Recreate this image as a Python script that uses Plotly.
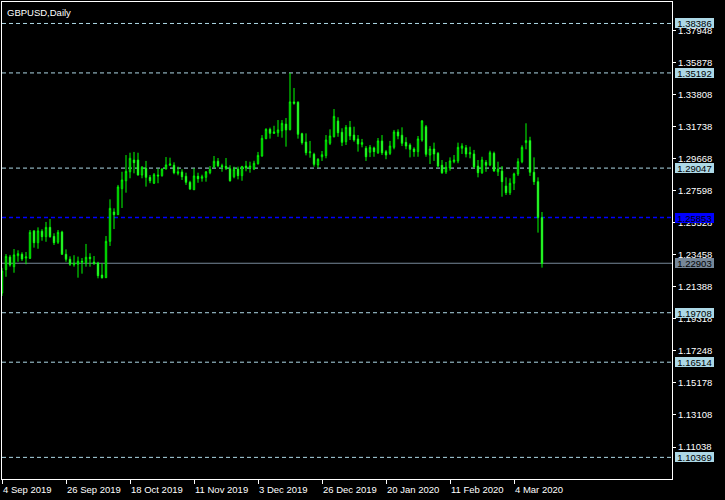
import pandas as pd
import plotly.graph_objects as go

# ---- data (GBPUSD daily, 4 Sep 2019 .. 13 Mar 2020) ----
holidays = ["2019-12-25", "2020-01-01"]
dates = [d for d in pd.bdate_range("2019-09-04", "2020-03-13") if d.strftime("%Y-%m-%d") not in holidays]

open_ = [1.2098, 1.2249, 1.2331, 1.2268, 1.2339, 1.2348, 1.2324, 1.2322, 1.2499, 1.2423,
         1.2497, 1.2462, 1.2522, 1.2464, 1.2426, 1.2492, 1.2348, 1.2316, 1.2281, 1.2284,
         1.2303, 1.2294, 1.2329, 1.2298, 1.2292, 1.2214, 1.2197, 1.2432, 1.2621, 1.2604,
         1.2772, 1.2823, 1.2881, 1.2957, 1.2957, 1.2860, 1.2903, 1.2845, 1.2807, 1.2860,
         1.2856, 1.2899, 1.2923, 1.2923, 1.2871, 1.2880, 1.2852, 1.2813, 1.2765, 1.2852,
         1.2839, 1.2845, 1.2875, 1.2914, 1.2949, 1.2920, 1.2916, 1.2901, 1.2849, 1.2899,
         1.2856, 1.2918, 1.2907, 1.2899, 1.2933, 1.2983, 1.3095, 1.3155, 1.3129, 1.3133,
         1.3146, 1.3189, 1.3153, 1.3332, 1.3330, 1.3127, 1.3073, 1.3004, 1.2994, 1.2925,
         1.2978, 1.2985, 1.3065, 1.3107, 1.3209, 1.3136, 1.3075, 1.3168, 1.3118, 1.3093,
         1.3058, 1.3033, 1.3007, 1.3035, 1.3004, 1.3080, 1.3011, 1.3000, 1.3039, 1.3138,
         1.3117, 1.3071, 1.3054, 1.3028, 1.3011, 1.3086, 1.3172, 1.2989, 1.3028, 1.3000,
         1.2923, 1.2880, 1.2905, 1.2946, 1.2951, 1.3033, 1.3036, 1.2996, 1.2996, 1.2918,
         1.2875, 1.2942, 1.2925, 1.3000, 1.2881, 1.2886, 1.2789, 1.2746, 1.2807, 1.2867,
         1.2946, 1.3069, 1.3082, 1.2878, 1.2817, 1.2585]
high = [1.2260, 1.2350, 1.2344, 1.2382, 1.2374, 1.2361, 1.2363, 1.2505, 1.2505, 1.2522,
        1.2510, 1.2557, 1.2576, 1.2484, 1.2505, 1.2500, 1.2380, 1.2335, 1.2342, 1.2333,
        1.2324, 1.2415, 1.2355, 1.2337, 1.2300, 1.2290, 1.2466, 1.2703, 1.2645, 1.2796,
        1.2881, 1.2989, 1.3004, 1.3009, 1.3004, 1.2918, 1.2951, 1.2860, 1.2873, 1.2901,
        1.2903, 1.2976, 1.2972, 1.2942, 1.2914, 1.2897, 1.2875, 1.2823, 1.2903, 1.2875,
        1.2862, 1.2886, 1.2918, 1.2983, 1.2970, 1.2933, 1.2970, 1.2923, 1.2914, 1.2914,
        1.2918, 1.2951, 1.2946, 1.2952, 1.3009, 1.3118, 1.3162, 1.3166, 1.3178, 1.3215,
        1.3215, 1.3228, 1.3519, 1.3422, 1.3336, 1.3133, 1.3129, 1.3080, 1.3004, 1.2968,
        1.3015, 1.3118, 1.3155, 1.3286, 1.3233, 1.3162, 1.3183, 1.3209, 1.3172, 1.3118,
        1.3093, 1.3047, 1.3054, 1.3043, 1.3099, 1.3118, 1.3022, 1.3080, 1.3151, 1.3155,
        1.3168, 1.3104, 1.3065, 1.3039, 1.3112, 1.3215, 1.3183, 1.3047, 1.3069, 1.3009,
        1.2957, 1.2944, 1.2974, 1.2989, 1.3069, 1.3065, 1.3054, 1.3043, 1.3022, 1.2957,
        1.2978, 1.2957, 1.3017, 1.3011, 1.2946, 1.2918, 1.2845, 1.2839, 1.2875, 1.2968,
        1.3052, 1.3194, 1.3107, 1.2974, 1.2845, 1.2621]
low = [1.2079, 1.2203, 1.2268, 1.2229, 1.2300, 1.2305, 1.2284, 1.2318, 1.2391, 1.2384,
       1.2436, 1.2429, 1.2455, 1.2408, 1.2415, 1.2344, 1.2300, 1.2273, 1.2268, 1.2197,
       1.2223, 1.2268, 1.2268, 1.2279, 1.2193, 1.2191, 1.2195, 1.2402, 1.2511, 1.2602,
       1.2647, 1.2746, 1.2839, 1.2871, 1.2856, 1.2839, 1.2785, 1.2807, 1.2802, 1.2807,
       1.2849, 1.2896, 1.2920, 1.2865, 1.2858, 1.2828, 1.2796, 1.2763, 1.2763, 1.2810,
       1.2817, 1.2817, 1.2865, 1.2903, 1.2910, 1.2881, 1.2892, 1.2817, 1.2839, 1.2832,
       1.2823, 1.2884, 1.2875, 1.2892, 1.2927, 1.2978, 1.3091, 1.3095, 1.3125, 1.3107,
       1.3101, 1.3043, 1.3148, 1.3314, 1.3095, 1.3056, 1.2987, 1.2972, 1.2914, 1.2907,
       1.2951, 1.2968, 1.3054, 1.3103, 1.3107, 1.3047, 1.3054, 1.3086, 1.3075, 1.3011,
       1.3039, 1.2951, 1.2976, 1.2978, 1.2996, 1.2989, 1.2962, 1.2989, 1.3026, 1.3091,
       1.3047, 1.3026, 1.2974, 1.2978, 1.2978, 1.3075, 1.2978, 1.2931, 1.2951, 1.2910,
       1.2867, 1.2867, 1.2888, 1.2936, 1.2936, 1.2996, 1.2974, 1.2968, 1.2903, 1.2845,
       1.2867, 1.2881, 1.2918, 1.2881, 1.2854, 1.2720, 1.2731, 1.2731, 1.2763, 1.2854,
       1.2936, 1.3026, 1.2854, 1.2796, 1.2488, 1.2262]
close = [1.2240, 1.2335, 1.2279, 1.2344, 1.2352, 1.2318, 1.2331, 1.2490, 1.2423, 1.2499,
         1.2462, 1.2522, 1.2462, 1.2423, 1.2490, 1.2348, 1.2316, 1.2284, 1.2290, 1.2303,
         1.2298, 1.2329, 1.2320, 1.2290, 1.2210, 1.2197, 1.2432, 1.2645, 1.2604, 1.2783,
         1.2828, 1.2884, 1.2968, 1.2940, 1.2860, 1.2910, 1.2845, 1.2823, 1.2862, 1.2854,
         1.2899, 1.2925, 1.2931, 1.2875, 1.2881, 1.2849, 1.2813, 1.2770, 1.2854, 1.2836,
         1.2849, 1.2880, 1.2897, 1.2949, 1.2920, 1.2914, 1.2903, 1.2823, 1.2897, 1.2856,
         1.2916, 1.2905, 1.2918, 1.2936, 1.2987, 1.3097, 1.3155, 1.3129, 1.3138, 1.3151,
         1.3194, 1.3151, 1.3332, 1.3323, 1.3123, 1.3069, 1.3004, 1.3009, 1.2929, 1.2962,
         1.2991, 1.3086, 1.3112, 1.3239, 1.3133, 1.3071, 1.3168, 1.3112, 1.3086, 1.3060,
         1.3069, 1.2978, 1.3039, 1.3011, 1.3080, 1.3004, 1.2989, 1.3047, 1.3138, 1.3112,
         1.3065, 1.3047, 1.3026, 1.3011, 1.3093, 1.3209, 1.2994, 1.3028, 1.2996, 1.2918,
         1.2875, 1.2910, 1.2951, 1.2957, 1.3039, 1.3047, 1.2996, 1.3004, 1.2914, 1.2875,
         1.2957, 1.2923, 1.3004, 1.2886, 1.2899, 1.2817, 1.2746, 1.2807, 1.2867, 1.2946,
         1.3039, 1.3082, 1.2878, 1.2817, 1.2585, 1.2290]

price_ticks = [1.37948, 1.35878, 1.33808, 1.31738, 1.29668, 1.27598, 1.25528, 1.23458,
               1.21388, 1.19318, 1.17248, 1.15178, 1.13108, 1.11038]
date_ticks = ["2019-09-04", "2019-09-26", "2019-10-18", "2019-11-11", "2019-12-03",
              "2019-12-26", "2020-01-20", "2020-02-11", "2020-03-04"]
date_labels = ["4 Sep 2019", "26 Sep 2019", "18 Oct 2019", "11 Nov 2019", "3 Dec 2019",
               "26 Dec 2019", "20 Jan 2020", "11 Feb 2020", "4 Mar 2020"]
level_lines = [1.38386, 1.35192, 1.29047, 1.19708, 1.16514, 1.10369]
blue_line = 1.25853
bid_line = 1.22903
title = "GBPUSD,Daily"

# ---- figure ----
date_str = [d.strftime("%Y-%m-%d") for d in dates]
xs = list(range(len(dates)))
tick_pos = [date_str.index(d) for d in date_ticks]

FONT = "Liberation Sans, Arial, sans-serif"
FS = 9.5
GREEN = "#00FF00"
LIGHTBLUE = "#ADD8E6"

fig = go.Figure()
fig.add_trace(go.Candlestick(
    x=xs, open=open_, high=high, low=low, close=close,
    increasing=dict(line=dict(color=GREEN, width=1), fillcolor="black"),
    decreasing=dict(line=dict(color=GREEN, width=1), fillcolor="white"),
    whiskerwidth=0, showlegend=False, hoverinfo="skip",
))

shapes = []
for lv in level_lines:
    shapes.append(dict(type="line", xref="paper", x0=0, x1=1, yref="y", y0=lv, y1=lv,
                       line=dict(color=LIGHTBLUE, width=1, dash="4px,3px"), layer="below"))
shapes.append(dict(type="line", xref="paper", x0=0, x1=1, yref="y", y0=blue_line, y1=blue_line,
                   line=dict(color="#0000FF", width=1.5, dash="4px,3px"), layer="below"))
shapes.append(dict(type="line", xref="paper", x0=0, x1=1, yref="y", y0=bid_line, y1=bid_line,
                   line=dict(color="#778899", width=1), layer="below"))

annotations = []
for pos, lab in zip(tick_pos, date_labels):
    annotations.append(dict(x=pos, xref="x", y=0, yref="paper", text=lab, showarrow=False,
                            xanchor="left", yanchor="top", xshift=-1, yshift=-3,
                            font=dict(family=FONT, size=FS, color="white")))

def box(val, bg, fg="black"):
    return dict(x=1, xref="paper", y=val, yref="y", text=f"{val:.5f}", showarrow=False,
                xanchor="left", yanchor="middle", xshift=3, width=39, height=10,
                bgcolor=bg, borderpad=0, borderwidth=0,
                font=dict(family=FONT, size=FS, color=fg))

for lv in level_lines:
    annotations.append(box(lv, LIGHTBLUE))
annotations.append(box(blue_line, "#0000FF", "black"))
annotations.append(box(bid_line, "#778899", "black"))
annotations.append(dict(x=0, xref="paper", y=1, yref="paper", text=title, showarrow=False,
                        xanchor="left", yanchor="top", xshift=3, yshift=-3,
                        font=dict(family=FONT, size=FS, color="white")))

fig.update_layout(
    width=725, height=500,
    margin=dict(l=2, r=53, t=2, b=21),
    paper_bgcolor="black", plot_bgcolor="black",
    boxgap=0.5,
    shapes=shapes, annotations=annotations,
    xaxis=dict(range=[0, 167.5], showgrid=False, zeroline=False, rangeslider=dict(visible=False),
               showline=True, linecolor="white", linewidth=1, mirror=True,
               ticks="outside", tickvals=tick_pos, ticklen=4, tickcolor="white",
               showticklabels=False),
    yaxis=dict(range=[1.08972, 1.39772], side="right", showgrid=False, zeroline=False,
               showline=True, linecolor="white", linewidth=1, mirror=True,
               ticks="outside", tickvals=price_ticks, ticktext=[f"{v:.5f}" for v in price_ticks],
               ticklen=3, tickcolor="white",
               tickfont=dict(family=FONT, size=FS, color="white")),
    font=dict(family=FONT, size=FS, color="white"),
)

fig.write_html("out.html", config={"displayModeBar": False},
               post_script="document.body.style.margin='0';document.body.style.background='black';")
